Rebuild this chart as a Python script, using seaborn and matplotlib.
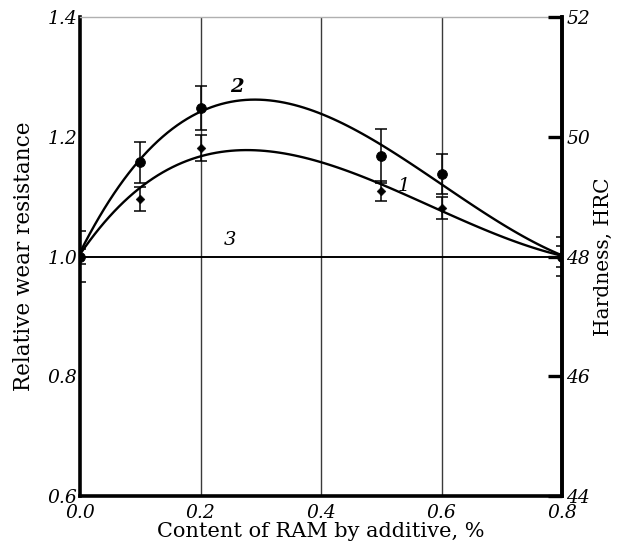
import matplotlib
matplotlib.use("Agg")
import matplotlib.pyplot as plt
import seaborn as sns
import pandas as pd

# Measured points (additive content, %) with scatter of repeated tests
x_meas = [0.0, 0.1, 0.2, 0.5, 0.6, 0.8]
wear_2 = [1.0, 1.157, 1.248, 1.168, 1.138, 1.0]
err_2 = [0.042, 0.035, 0.036, 0.045, 0.033, 0.032]
wear_1 = [1.0, 1.096, 1.181, 1.109, 1.081, 1.0]
err_1 = [0.012, 0.020, 0.022, 0.017, 0.018, 0.018]

# Approximating curves through the measurements
x_fit = [0.0, 0.025, 0.05, 0.075, 0.1, 0.15, 0.2, 0.25, 0.3, 0.35,
         0.4, 0.45, 0.5, 0.55, 0.6, 0.65, 0.7, 0.75, 0.8]
fit_2 = [1.0, 1.060, 1.100, 1.133, 1.160, 1.208, 1.239, 1.256, 1.263, 1.258,
         1.241, 1.217, 1.185, 1.151, 1.118, 1.087, 1.057, 1.028, 1.0]
fit_1 = [1.0, 1.040, 1.072, 1.095, 1.114, 1.145, 1.165, 1.175, 1.178, 1.173,
         1.159, 1.141, 1.120, 1.097, 1.074, 1.054, 1.035, 1.017, 1.0]
x_base = [0.0, 0.8]
base_3 = [1.0, 1.0]

x_ticks = [0.0, 0.2, 0.4, 0.6, 0.8]
wear_ticks = [0.6, 0.8, 1.0, 1.2, 1.4]
hrc_ticks = [44, 46, 48, 50, 52]

sns.set_theme(style="white")
plt.rcParams["font.family"] = ["DejaVu Serif"]
plt.rcParams.update({"text.color": "black", "axes.labelcolor": "black",
                     "xtick.color": "black", "ytick.color": "black"})

fig = plt.figure(figsize=(6.17, 5.48), dpi=100)
ax = fig.add_axes([80 / 617, 1 - 496 / 548, 482 / 617, 479 / 548])

# vertical guide lines
for xv in x_ticks[1:-1]:
    ax.axvline(xv, color="#3a3a3a", lw=1.0, zorder=1)

# smooth polynomial curves through the traced points
fit_df = pd.DataFrame({"x": x_fit, "c2": fit_2, "c1": fit_1})
line_kw = dict(color="black", lw=1.7, zorder=3)
sns.regplot(data=fit_df, x="x", y="c2", ax=ax, order=5, ci=None,
            scatter=False, truncate=True, line_kws=line_kw)
sns.regplot(data=fit_df, x="x", y="c1", ax=ax, order=5, ci=None,
            scatter=False, truncate=True, line_kws=line_kw)
sns.lineplot(x=x_base, y=base_3, ax=ax, color="black", lw=1.4, zorder=3)

ax.errorbar(x_meas, wear_2, yerr=err_2, fmt="none", ecolor="black",
            elinewidth=1.1, capsize=4.3, capthick=1.1, zorder=4)
ax.errorbar(x_meas, wear_1, yerr=err_1, fmt="none", ecolor="black",
            elinewidth=1.1, capsize=4.3, capthick=1.1, zorder=4)
sns.scatterplot(x=x_meas, y=wear_2, ax=ax, marker="o", s=50, color="black",
                edgecolor="black", zorder=5)
sns.scatterplot(x=x_meas[1:-1], y=wear_1[1:-1], ax=ax, marker="D", s=20,
                color="black", edgecolor="black", zorder=5)

label_style = dict(fontsize=14, style="italic", ha="center", va="center")
ax.text(0.261, 1.283, "2", fontweight="bold", **label_style)
ax.text(0.538, 1.118, "1", **label_style)
ax.text(0.249, 1.028, "3", **label_style)

ax.set_xlim(0.0, 0.8)
ax.set_ylim(0.6, 1.4)
ax.set_xticks(x_ticks)
ax.set_xticklabels([f"{v:.1f}" for v in x_ticks], style="italic", fontsize=13.5)
ax.set_yticks(wear_ticks)
ax.set_yticklabels([f"{v:.1f}" for v in wear_ticks], style="italic", fontsize=13.5)
ax.tick_params(axis="y", length=0, pad=2)
ax.tick_params(axis="x", length=0, pad=6)
ax.set_xlabel("Content of RAM by additive, %", fontsize=15, labelpad=0)
ax.set_ylabel("Relative wear resistance", fontsize=15.5, labelpad=9)

for side in ("left", "bottom", "right"):
    ax.spines[side].set_linewidth(2.6)
    ax.spines[side].set_color("black")
ax.spines["top"].set_linewidth(1.0)
ax.spines["top"].set_color("#b0b0b0")

ax2 = ax.twinx()
ax2.set_ylim(44, 52)
ax2.set_yticks(hrc_ticks)
ax2.set_yticklabels([str(v) for v in hrc_ticks], style="italic", fontsize=13.5)
ax2.tick_params(axis="y", direction="in", length=10, width=2.4, pad=3,
                colors="black")
ax2.set_ylabel("Hardness, HRC", fontsize=14.5, labelpad=3)
for side in ("left", "bottom", "top"):
    ax2.spines[side].set_visible(False)
ax2.spines["right"].set_linewidth(2.6)
ax2.spines["right"].set_color("black")

fig.savefig("out.png", dpi=100)
